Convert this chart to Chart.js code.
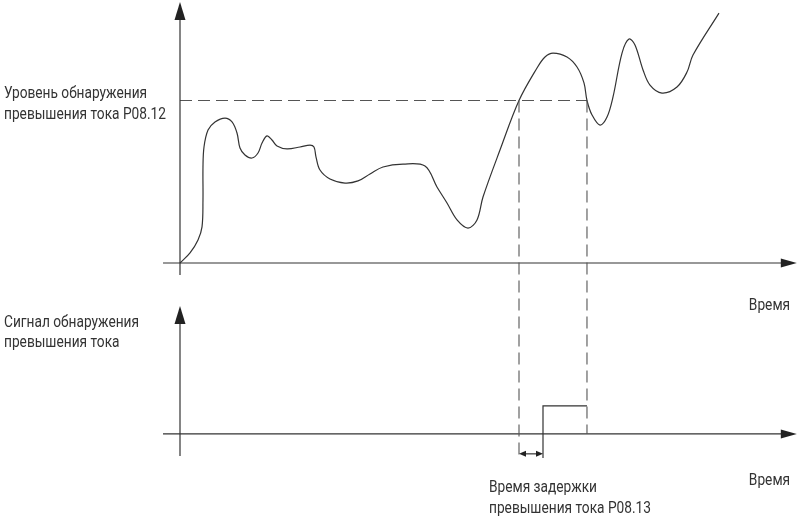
<!DOCTYPE html>
<html lang="ru">
<head>
<meta charset="utf-8">
<script src="https://cdn.jsdelivr.net/npm/chart.js@4.4.1/dist/chart.umd.min.js"></script>
<style>
  html, body { margin: 0; padding: 0; background: #fff; }
  #wrap { position: relative; width: 798px; height: 516px; }
  canvas { position: absolute; left: 0; top: 0; }
  .lbl {
    position: absolute;
    font-family: Roboto, "Noto Sans", sans-serif;
    font-size: 16px;
    line-height: 21px;
    color: #333;
    white-space: nowrap;
    transform-origin: left top;
  }
  .lbl.right { transform-origin: right top; text-align: right; }
  #probe { position: absolute; visibility: hidden; font-family: Roboto, "Noto Sans", sans-serif; font-size: 16px; white-space: nowrap; }
</style>
</head>
<body>
<div id="wrap">
  <canvas id="diagram" width="798" height="516"></canvas>
  <div class="lbl" style="left:4px; top:82px">Уровень обнаружения<br>превышения тока P08.12</div>
  <div class="lbl" style="left:4px; top:312px; line-height:20px">Сигнал обнаружения<br>превышения тока</div>
  <div class="lbl right" style="right:8px; top:294px">Время</div>
  <div class="lbl right" style="right:8px; top:469px">Время</div>
  <div class="lbl" style="left:489px; top:477px; line-height:20.5px">Время задержки<br>превышения тока P08.13</div>
  <span id="probe">превышения тока P08.12</span>
</div>
<script>
// current curve (time, level), threshold level = 100
var curveT = [0, 1.67, 3, 3.67, 3.83, 3.83, 4, 4.67, 5.83, 7.5, 8.67, 9.5, 10, 10.83, 12, 13, 13.67,
  14.5, 15.33, 16.17, 17.83, 20, 21.67, 22.33, 22.67, 23.33, 25, 27.5, 29.67, 31.67, 33.83, 37.17,
  40.83, 42.83, 44.5, 46.17, 48, 49.5, 50.5, 53.33, 56.5, 59.5, 60.83, 62.17, 64.5, 66.17, 67.33,
  67.83, 68.67, 70, 71.17, 72.17, 73.67, 74.83, 75.83, 77.17, 78.33, 80.33, 82.83, 84.5, 85.5, 89.83];
var curveLevel = [0, 6.2, 14.2, 22.2, 38.8, 59.1, 71.4, 81.8, 86.8, 89.2, 86.8, 80, 70.8, 66.5, 64.6,
  67.7, 73.8, 78.2, 75.7, 72, 70.2, 71.4, 72.6, 71.4, 65.2, 57.2, 51.7, 49.2, 50.5, 54.8, 59.1, 60.9,
  59.7, 46.8, 36.9, 26.5, 21.5, 26.5, 40.6, 69.5, 100, 120, 126.8, 129.2, 126.8, 120.6, 110.8,
  100, 91.1, 84.9, 89.8, 102.2, 129.2, 137.8, 134.2, 118.8, 109.5, 104.6, 108.3, 117.5, 128, 153.8];

var threshold = 100;
var crossUp = 56.5;     // level rises over threshold
var crossDown = 67.83;  // level falls below threshold
var delayEnd = 60.5;    // end of delay P08.13

// output signal (time, state)
var signalT = [delayEnd, delayEnd, crossDown];
var signalV = [0, 1, 1];

function toPoints(xs, ys) {
  return xs.map(function (x, i) { return { x: x, y: ys[i] }; });
}

// squeeze labels to the narrow face of the original
var probeWidth = document.getElementById('probe').getBoundingClientRect().width;
var squeeze = probeWidth > 0 ? 162 / probeWidth : 1;
document.querySelectorAll('.lbl').forEach(function (el) {
  el.style.transform = 'scaleX(' + squeeze + ')';
});

var lineColor = '#333';
var dashColor = '#555';

var diagramPlugin = {
  id: 'diagram',
  afterDatasetsDraw: function (chart) {
    var ctx = chart.ctx;
    var x = chart.scales.x, y = chart.scales.y, y2 = chart.scales.y2;

    function line(x1, y1, x2, y2_, dash) {
      ctx.save();
      ctx.strokeStyle = dash ? dashColor : lineColor;
      ctx.lineWidth = dash ? 1.1 : 1.2;
      ctx.setLineDash(dash ? [12, 6] : []);
      ctx.beginPath();
      ctx.moveTo(x1, y1);
      ctx.lineTo(x2, y2_);
      ctx.stroke();
      ctx.restore();
    }
    function arrow(tx, ty, dir, len, half) {
      ctx.save();
      ctx.fillStyle = '#222';
      ctx.beginPath();
      ctx.moveTo(tx, ty);
      if (dir === 'up') { ctx.lineTo(tx - half, ty + len); ctx.lineTo(tx + half, ty + len); }
      if (dir === 'right') { ctx.lineTo(tx - len, ty - half); ctx.lineTo(tx - len, ty + half); }
      if (dir === 'left') { ctx.lineTo(tx + len, ty - half); ctx.lineTo(tx + len, ty + half); }
      ctx.closePath();
      ctx.fill();
      ctx.restore();
    }

    var x0 = x.getPixelForValue(0);
    var xStart = x.getPixelForValue(-2.83);
    var xEnd = x.getPixelForValue(102.8);

    // top axes
    var yTop0 = y.getPixelForValue(0);
    line(xStart, yTop0, xEnd - 10, yTop0);
    arrow(xEnd, yTop0, 'right', 16, 4.5);
    line(x0, y.getPixelForValue(-7.4), x0, y.getPixelForValue(150));
    arrow(x0, y.getPixelForValue(160.6), 'up', 18, 5.5);

    // bottom axes
    var yBot0 = y2.getPixelForValue(0);
    line(xStart, yBot0, xEnd - 10, yBot0);
    arrow(xEnd, yBot0, 'right', 16, 4.5);
    line(x0, y2.getPixelForValue(-0.79), x0, y2.getPixelForValue(4));
    arrow(x0, y2.getPixelForValue(4.57), 'up', 18, 5.5);

    // vertical dashed lines from threshold crossings down to the signal axis
    var yThr = y.getPixelForValue(threshold);
    line(x.getPixelForValue(crossUp), yThr, x.getPixelForValue(crossUp), y2.getPixelForValue(-0.82), true);
    line(x.getPixelForValue(crossDown), yThr, x.getPixelForValue(crossDown), y2.getPixelForValue(0), true);

    // delay dimension
    var xa = x.getPixelForValue(crossUp), xb = x.getPixelForValue(delayEnd);
    var yd = y2.getPixelForValue(-0.71);
    line(xb, yBot0, xb, y2.getPixelForValue(-0.86));
    line(xa + 5, yd, xb - 5, yd);
    arrow(xa, yd, 'left', 7, 3);
    arrow(xb, yd, 'right', 7, 3);
  }
};

new Chart(document.getElementById('diagram'), {
  type: 'line',
  data: {
    datasets: [
      {
        data: toPoints(curveT, curveLevel),
        yAxisID: 'y',
        borderColor: lineColor,
        borderWidth: 1.2,
        pointRadius: 0,
        tension: 0.35,
        fill: false
      },
      {
        data: toPoints([0, crossDown], [threshold, threshold]),
        yAxisID: 'y',
        borderColor: dashColor,
        borderWidth: 1.1,
        borderDash: [12, 6],
        pointRadius: 0,
        fill: false
      },
      {
        data: toPoints(signalT, signalV),
        yAxisID: 'y2',
        borderColor: lineColor,
        borderWidth: 1.2,
        pointRadius: 0,
        tension: 0,
        fill: false
      }
    ]
  },
  options: {
    responsive: false,
    animation: false,
    layout: { padding: 0 },
    plugins: { legend: { display: false }, tooltip: { enabled: false } },
    scales: {
      x: { type: 'linear', min: -30, max: 103, display: false },
      y: { type: 'linear', min: -155.7, max: 161.85, display: false },
      y2: { type: 'linear', min: -2.93, max: 15.5, display: false }
    }
  },
  plugins: [diagramPlugin]
});
</script>
</body>
</html>
